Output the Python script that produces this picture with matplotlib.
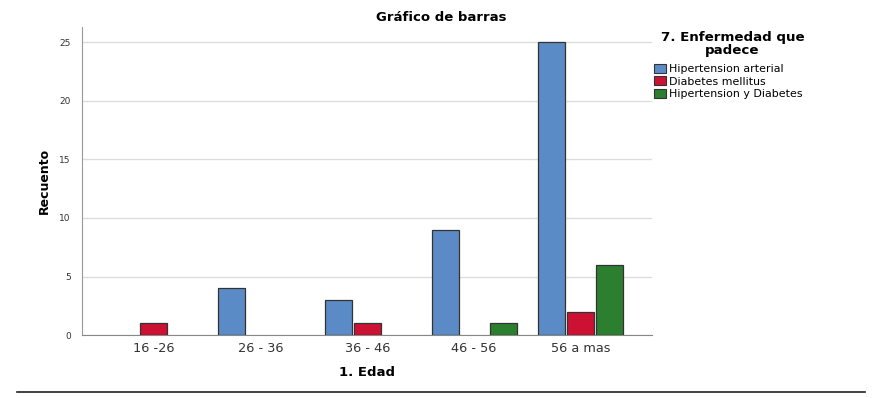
import matplotlib
matplotlib.use("Agg")
import matplotlib.pyplot as plt
import numpy as np
from matplotlib.patches import Patch

# datos
edades = ["16 -26", "26 - 36", "36 - 46", "46 - 56", "56 a mas"]
hipertension = [0, 4, 3, 9, 25]
diabetes = [1, 0, 1, 0, 2]
hiper_diab = [0, 0, 0, 1, 6]
series = ["Hipertension arterial", "Diabetes mellitus", "Hipertension y Diabetes"]
colores = ["#5b8bc6", "#cc1133", "#2b7f2e"]

fig = plt.figure(figsize=(8.74, 3.98), dpi=100)
ax = fig.add_axes([0.0938, 0.158, 0.652, 0.774])

x = np.arange(len(edades))
ancho = 0.253
paso = 0.272
for i, (vals, col) in enumerate(zip([hipertension, diabetes, hiper_diab], colores)):
    v = np.array(vals, dtype=float)
    m = v > 0
    ax.bar(x[m] + (i - 1) * paso, v[m], width=ancho, color=col,
           edgecolor="#333333", linewidth=0.9, zorder=3)

ax.set_xlim(-0.674, 4.665)
ax.set_ylim(0, 26.3)
ax.set_yticks([0, 5, 10, 15, 20, 25])
ax.set_xticks(x)
ax.set_xticklabels(edades, fontsize=9.3, color="#333333")
ax.tick_params(axis="y", labelsize=6.5, length=0, colors="#333333", pad=8)
ax.tick_params(axis="x", length=0, pad=5)
ax.yaxis.grid(True, color="#dddddd", linewidth=1.0, zorder=0)
for s in ["top", "right"]:
    ax.spines[s].set_visible(False)
ax.spines["left"].set_color("#999999")
ax.spines["bottom"].set_color("#888888")

ax.set_ylabel("Recuento", fontsize=9, fontweight="bold", labelpad=6)
ax.set_xlabel("1. Edad", fontsize=9.5, fontweight="bold", labelpad=8)
fig.text(0.505, 0.957, "Gráfico de barras", ha="center", va="center",
         fontsize=9.5, fontweight="bold")

# leyenda
fig.text(0.838, 0.89, "7. Enfermedad que\npadece", ha="center", va="center",
         fontsize=9.6, fontweight="bold", linespacing=0.95)
handles = [Patch(facecolor=c, edgecolor="#333333", linewidth=0.8) for c in colores]
leg = fig.legend(handles, series, loc="upper left", bbox_to_anchor=(0.748, 0.84),
                 frameon=False, fontsize=7.9,
                 handlelength=1.1, handleheight=0.9, handletextpad=0.3,
                 labelspacing=0.2, borderaxespad=0, borderpad=0)

# linea inferior
fig.add_artist(plt.Line2D([0.02, 0.99], [0.015, 0.015], color="#222222", linewidth=1.2))

fig.savefig("out.png", dpi=100)
